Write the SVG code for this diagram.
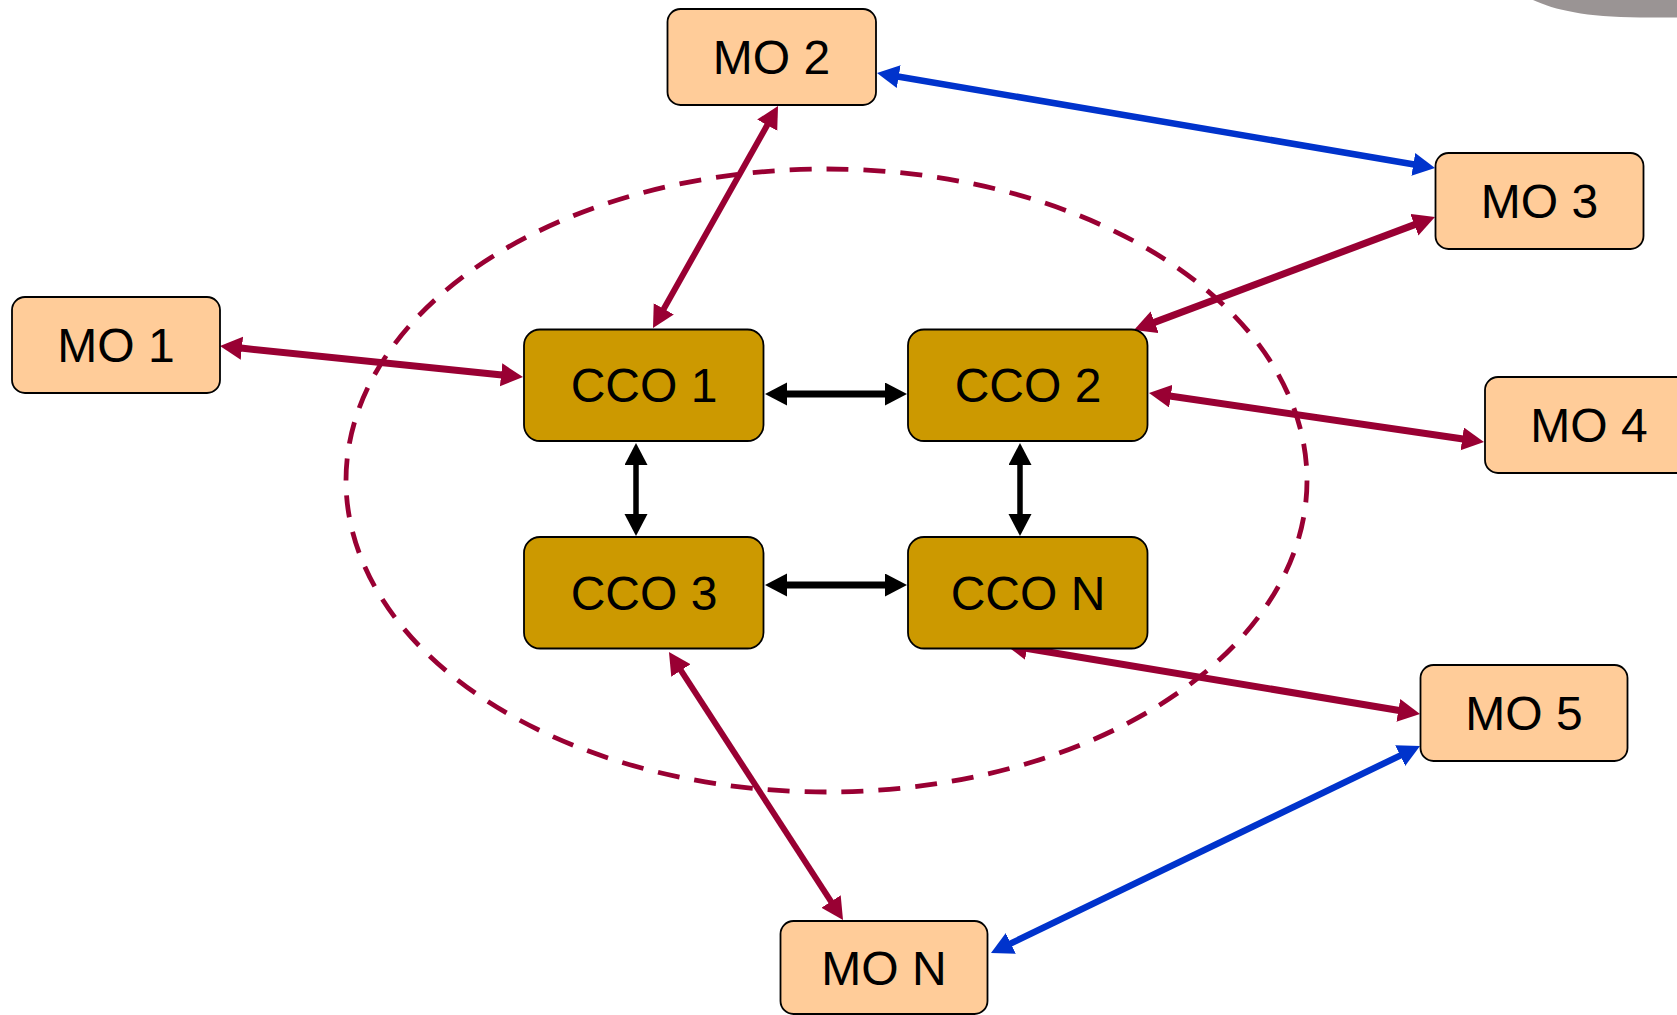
<svg xmlns="http://www.w3.org/2000/svg" width="1677" height="1015" viewBox="0 0 1677 1015">
<style>
.mo{fill:#FFCC99;stroke:#000;stroke-width:1.8}
.cco{fill:#CC9900;stroke:#000;stroke-width:1.8}
.t{font-family:"Liberation Sans",Arial,sans-serif;font-size:48px;text-anchor:middle;fill:#000}
.r{stroke:#990033;fill:none;marker-start:url(#hr);marker-end:url(#hr)}
.b{stroke:#0033CC;fill:none;stroke-width:6.5;marker-start:url(#hb);marker-end:url(#hb)}
.k{stroke:#000;fill:none;marker-start:url(#hk);marker-end:url(#hk)}
</style>
<defs>
<marker id="hr" markerUnits="userSpaceOnUse" markerWidth="24" markerHeight="24" viewBox="0 0 24 24" refX="1" refY="11.5" orient="auto-start-reverse"><path d="M0,0 L22,11.5 L0,23 Z" fill="#990033"/></marker>
<marker id="hb" markerUnits="userSpaceOnUse" markerWidth="24" markerHeight="24" viewBox="0 0 24 24" refX="1" refY="11.5" orient="auto-start-reverse"><path d="M0,0 L22,11.5 L0,23 Z" fill="#0033CC"/></marker>
<marker id="hk" markerUnits="userSpaceOnUse" markerWidth="24" markerHeight="24" viewBox="0 0 24 24" refX="1" refY="11.5" orient="auto-start-reverse"><path d="M0,0 L22,11.5 L0,23 Z" fill="#000"/></marker>
</defs>
<rect width="1677" height="1015" fill="#fff"/>
<path d="M1533,0 C1555,10 1585,17 1640,17.5 L1677,17.5 L1677,0 Z" fill="#9A9494"/>
<ellipse id="boundary" cx="826.5" cy="480.5" rx="480.5" ry="311.5" fill="none" stroke="#990033" stroke-width="4.8" stroke-dasharray="22 15"/>
<g id="connectors">
<line class="r" style="stroke-width:7" x1="240.9" y1="348.1" x2="502.1" y2="374.9"/>
<line class="r" style="stroke-width:6" x1="767.7" y1="124.3" x2="663.3" y2="309.7"/>
<line class="b" x1="897.7" y1="76.5" x2="1414.3" y2="164.5"/>
<line class="r" style="stroke-width:7" x1="1415.3" y1="224.4" x2="1153.7" y2="322.6"/>
<line class="r" style="stroke-width:7" x1="1169.8" y1="396" x2="1463.2" y2="439"/>
<line class="k" style="stroke-width:7" x1="786" y1="394" x2="886" y2="394"/>
<line class="k" style="stroke-width:7" x1="786" y1="585" x2="886" y2="585"/>
<line class="k" style="stroke-width:5.5" x1="636" y1="464" x2="636" y2="515"/>
<line class="k" style="stroke-width:5.5" x1="1020" y1="464" x2="1020" y2="515"/>
<line class="r" style="stroke-width:7" x1="1026" y1="648.2" x2="1399.3" y2="710.5"/>
<line class="r" style="stroke-width:6" x1="680.4" y1="669.6" x2="831.6" y2="902.4"/>
<line class="b" x1="1401.1" y1="755.1" x2="1009.9" y2="943.9"/>
</g>
<g id="mo1"><rect class="mo" x="12" y="297" width="208" height="96" rx="13"/><text class="t" x="116" y="362">MO 1</text></g>
<g id="mo2"><rect class="mo" x="667.5" y="9" width="208.5" height="96" rx="13"/><text class="t" x="771.5" y="74">MO 2</text></g>
<g id="mo3"><rect class="mo" x="1435.5" y="153" width="208" height="96" rx="13"/><text class="t" x="1539.5" y="218">MO 3</text></g>
<g id="mo4"><rect class="mo" x="1485" y="377" width="208" height="96" rx="13"/><text class="t" x="1589" y="442">MO 4</text></g>
<g id="mo5"><rect class="mo" x="1420.5" y="665" width="207" height="96" rx="13"/><text class="t" x="1524" y="730">MO 5</text></g>
<g id="mon"><rect class="mo" x="780.5" y="921" width="207" height="93" rx="13"/><text class="t" x="884" y="985">MO N</text></g>
<g id="cco1"><rect class="cco" x="524" y="329.5" width="239.5" height="111.5" rx="16"/><text class="t" x="644" y="402">CCO 1</text></g>
<g id="cco2"><rect class="cco" x="908" y="329.5" width="239.5" height="111.5" rx="16"/><text class="t" x="1028" y="402">CCO 2</text></g>
<g id="cco3"><rect class="cco" x="524" y="537" width="239.5" height="111.5" rx="16"/><text class="t" x="644" y="609.5">CCO 3</text></g>
<g id="ccon"><rect class="cco" x="908" y="537" width="239.5" height="111.5" rx="16"/><text class="t" x="1028" y="609.5">CCO N</text></g>
</svg>
